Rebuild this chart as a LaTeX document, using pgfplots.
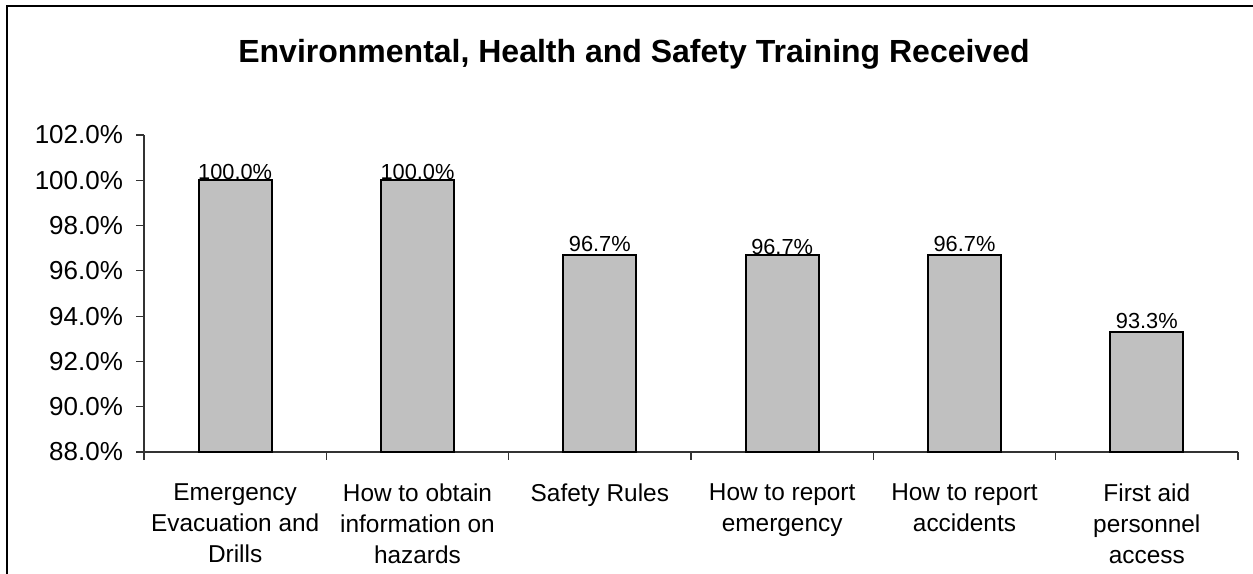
\documentclass[border=0pt]{standalone}
\usepackage{pgfplots}
\pgfplotsset{compat=1.18}
\usepackage{fontspec}
\setmainfont{Liberation Sans}
\definecolor{bargray}{RGB}{192,192,192}
\begin{document}
\begin{tikzpicture}
\useasboundingbox (0,0) rectangle (626.5pt,286.5pt);
\draw[line width=1pt] (3.5pt,-2pt) -- (3.5pt,283.5pt) -- (630pt,283.5pt);
\node[anchor=base,font=\fontsize{16}{19}\selectfont\bfseries] at (317pt,255pt) {Environmental, Health and Safety Training Received};
\begin{axis}[
  at={(72pt,60.5pt)}, anchor=south west,
  scale only axis, width=547pt, height=158.5pt,
  xmin=-0.5, xmax=5.5, ymin=88, ymax=102,
  ytick={88,90,...,102},
  axis x line*=bottom, axis y line*=left,
  axis line style={line width=0.6pt, black!80},
  tick style={line width=0.6pt, black!80},
  tick align=outside,
  major tick length=4pt,
  yticklabel={\pgfmathprintnumber[fixed,fixed zerofill,precision=1]{\tick}\%},
  yticklabel style={font=\fontsize{13}{15}\selectfont, /pgf/number format/assume math mode=true, xshift=-3pt},
  xtick={0,...,5},
  xticklabels={{Emergency\\Evacuation and\\Drills}, {How to obtain\\information on\\hazards}, {Safety Rules}, {How to report\\emergency}, {How to report\\accidents}, {First aid\\personnel\\access}},
  x tick style={draw=none},
  xticklabel style={font=\fontsize{12.2}{15.5}\selectfont, align=center, anchor=north, yshift=-8.5pt},
  extra x ticks={-0.5,0.5,1.5,2.5,3.5,4.5,5.5},
  extra x tick labels={},
  extra x tick style={x tick style={draw=black!80, line width=0.6pt}, major tick length=4pt},
  ybar, bar width=36.5pt, bar shift=0pt,
  nodes near coords={\pgfmathprintnumber[fixed,fixed zerofill,precision=1]{\pgfplotspointmeta}\%},
  nodes near coords style={font=\fontsize{10.9}{13}\selectfont, /pgf/number format/assume math mode=true, inner sep=1pt},
  clip=false,
]
\addplot[fill=bargray, draw=black, line width=1pt, nodes near coords style={yshift=-1.3pt}] coordinates {(0,100.0) (1,100.0) (3,96.7)};
\addplot[fill=bargray, draw=black, line width=1pt] coordinates {(2,96.7) (4,96.7) (5,93.3)};
\end{axis}
\end{tikzpicture}
\end{document}
